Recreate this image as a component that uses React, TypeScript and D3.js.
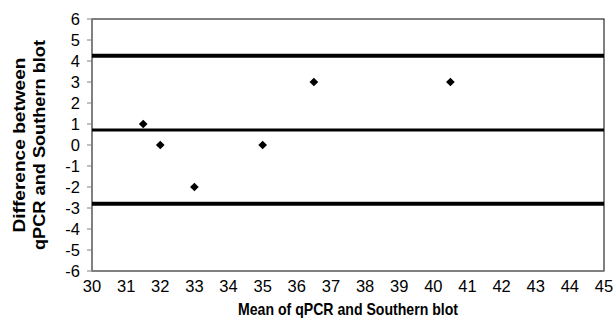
import React from "react";
import * as d3 from "d3";

const meanX = [31.5, 32, 33, 35, 36.5, 40.5];
const diffY = [1, 0, -2, 0, 3, 3];
const refLines = [
  { value: 4.25, width: 4 },
  { value: 0.71, width: 3 },
  { value: -2.8, width: 4 },
];
const xTicks = d3.range(30, 46, 1);
const yTicks = d3.range(-6, 7, 1);

export default function App() {
  const W = 616, H = 321;
  const x = d3.scaleLinear().domain([30, 45]).range([92, 604]);
  const y = d3.scaleLinear().domain([-6, 6]).range([271, 19]);
  const font = "Arial, 'Liberation Sans', sans-serif";
  const diamond = d3.symbol().type(d3.symbolDiamond2).size(48)();
  return (
    <svg width={W} height={H} style={{ position: "absolute", left: 0, top: 0, background: "#fff" }}>
      <rect x={x(30)} y={y(6)} width={x(45) - x(30)} height={y(-6) - y(6)} fill="none" stroke="#000" strokeWidth={1} />
      <line x1={x(30)} x2={x(30)} y1={y(6)} y2={y(-6)} stroke="#808080" strokeWidth={1.5} />
      <line x1={x(30)} x2={x(45)} y1={y(-6)} y2={y(-6)} stroke="#808080" strokeWidth={1.5} />
      {yTicks.map((t) => (
        <g key={"y" + t}>
          <line x1={x(30) - 5} x2={x(30)} y1={y(t)} y2={y(t)} stroke="#808080" strokeWidth={1} />
          <text x={80} y={y(t)} dy="0.36em" textAnchor="end" fontFamily={font} fontSize={16.5}>{t}</text>
        </g>
      ))}
      {xTicks.map((t) => (
        <text key={"x" + t} x={x(t)} y={292} textAnchor="middle" fontFamily={font} fontSize={16.5}>{t}</text>
      ))}
      {refLines.map((r, i) => (
        <line key={"r" + i} x1={x(30)} x2={x(45)} y1={y(r.value)} y2={y(r.value)} stroke="#000" strokeWidth={r.width} />
      ))}
      {meanX.map((m, i) => (
        <path key={"p" + i} d={diamond!} transform={`translate(${x(m)},${y(diffY[i])})`} fill="#000" />
      ))}
      <text x={(238 + 458) / 2} y={315} textAnchor="middle" fontFamily={font} fontSize={17} fontWeight="bold"
        textLength={220} lengthAdjust="spacingAndGlyphs">Mean of qPCR and Southern blot</text>
      <g transform={`translate(0,${y(0)}) rotate(-90)`}>
        <text x={0} y={25} textAnchor="middle" fontFamily={font} fontSize={17} fontWeight="bold"
          textLength={175} lengthAdjust="spacingAndGlyphs">Difference between</text>
        <text x={0} y={45} textAnchor="middle" fontFamily={font} fontSize={17} fontWeight="bold"
          textLength={210} lengthAdjust="spacingAndGlyphs">qPCR and Southern blot</text>
      </g>
    </svg>
  );
}
